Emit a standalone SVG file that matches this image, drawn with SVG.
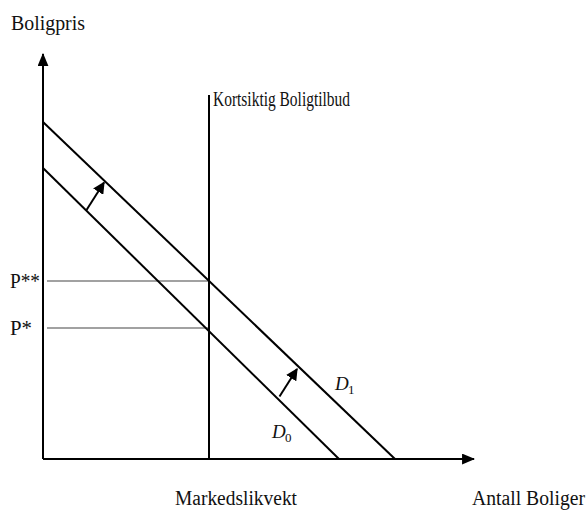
<svg xmlns="http://www.w3.org/2000/svg" width="587" height="516" viewBox="0 0 587 516">
<defs>
<style>
.t{font-family:"Liberation Serif","Times New Roman",serif;font-size:20px;fill:#111}
.m{font-family:"Liberation Serif",serif;font-style:italic;font-size:19px;fill:#111}
.s{font-family:"Liberation Serif",serif;font-size:13px;fill:#111}
.ln{stroke:#000;stroke-width:2;fill:none}
.g{stroke:#444;stroke-width:1.2;fill:none}
</style>
<marker id="ah" viewBox="0 0 10 10" refX="9" refY="5" markerWidth="12" markerHeight="12" markerUnits="userSpaceOnUse" orient="auto"><path d="M0,0 L10,5 L0,10 z" fill="#000"/></marker>
<marker id="ax" viewBox="0 0 12 10" refX="11" refY="5" markerWidth="13" markerHeight="11" markerUnits="userSpaceOnUse" orient="auto"><path d="M0,0 L12,5 L0,10 z" fill="#000"/></marker>
</defs>
<rect width="587" height="516" fill="#fff"/>
<g id="axes">
<line class="ln" x1="43" y1="459" x2="43" y2="54" marker-end="url(#ax)"/>
<line class="ln" x1="43" y1="459" x2="474" y2="459" marker-end="url(#ax)"/>
</g>
<g id="connectors">
<line class="g" x1="47" y1="281" x2="209" y2="281"/>
<line class="g" x1="47" y1="328" x2="209" y2="328"/>
<line class="ln" x1="86.5" y1="210" x2="104" y2="182.5" marker-end="url(#ah)"/>
<line class="ln" x1="279.5" y1="396.5" x2="297" y2="369" marker-end="url(#ah)"/>
</g>
<g id="supply">
<line class="ln" x1="209" y1="95" x2="209" y2="459"/>
<text class="t" x="213" y="106" textLength="137" lengthAdjust="spacingAndGlyphs">Kortsiktig Boligtilbud</text>
</g>
<g id="D0">
<line class="ln" x1="43" y1="168" x2="339" y2="459"/>
<text class="m" x="272" y="438">D</text><text class="s" x="285" y="442">0</text>
</g>
<g id="D1">
<line class="ln" x1="43" y1="122" x2="395" y2="459"/>
<text class="m" x="335" y="390">D</text><text class="s" x="348" y="394">1</text>
</g>
<g id="labels">
<text class="t" x="11" y="30" textLength="74" lengthAdjust="spacingAndGlyphs">Boligpris</text>
<text class="t" x="10" y="288" textLength="30" lengthAdjust="spacingAndGlyphs">P**</text>
<text class="t" x="10" y="335" textLength="22" lengthAdjust="spacingAndGlyphs">P*</text>
<text class="t" x="175" y="505" textLength="122" lengthAdjust="spacingAndGlyphs">Markedslikvekt</text>
<text class="t" x="472" y="505" textLength="113" lengthAdjust="spacingAndGlyphs">Antall Boliger</text>
</g>
</svg>
